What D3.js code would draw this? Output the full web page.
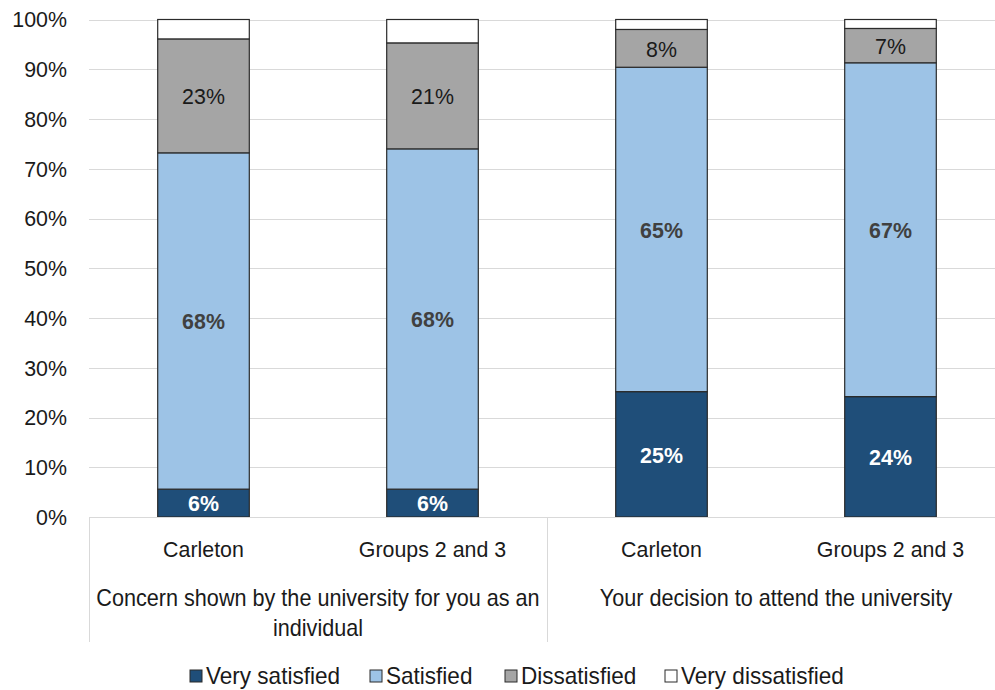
<!DOCTYPE html>
<html>
<head>
<meta charset="utf-8">
<script src="https://cdn.jsdelivr.net/npm/d3@7"></script>
<style>
  body { margin: 0; background: #fff; }
  svg text { font-family: "Liberation Sans Narrow", "Arial Narrow", "Liberation Sans", Arial, sans-serif; }
</style>
</head>
<body>
<div id="chart"></div>
<script>
// data
var questions = ["Concern shown by the university for you as an individual", "Your decision to attend the university"];
var groups = ["Carleton", "Groups 2 and 3"];
var seriesNames = ["Very satisfied", "Satisfied", "Dissatisfied", "Very dissatisfied"];
var verySatisfied = [5.6, 5.6, 25.2, 24.2];
var satisfied = [67.6, 68.4, 65.2, 67.1];
var dissatisfied = [22.9, 21.3, 7.6, 6.9];
var veryDissatisfied = [3.9, 4.7, 2.0, 1.8];
var yTicks = [0, 10, 20, 30, 40, 50, 60, 70, 80, 90, 100];

var colors = ["#1F4E79", "#9DC3E6", "#A5A5A5", "#FFFFFF"];
var labelColors = ["#FFFFFF", "#404040", "#1a1a1a", null];
var labelWeights = ["bold", "bold", "normal", "normal"];

var width = 995, height = 690;
var margin = {top: 19.5, right: -10, bottom: 173, left: 89};
var fontSize = 23;

// move x/y into a transform so the text can be squeezed sideways
function narrow(k) {
  return function(sel) {
    sel.each(function() {
      var t = d3.select(this);
      var tx = +t.attr("x") || 0, ty = +t.attr("y") || 0;
      t.attr("x", null).attr("y", null)
        .attr("transform", "translate(" + tx + "," + ty + ") scale(" + k + ",1)");
    });
  };
}

// build rows: one per bar
var rows = [];
questions.forEach(function(q, qi) {
  groups.forEach(function(g, gi) {
    var i = qi * groups.length + gi;
    rows.push({
      key: i,
      question: q,
      group: g,
      "Very satisfied": verySatisfied[i],
      "Satisfied": satisfied[i],
      "Dissatisfied": dissatisfied[i],
      "Very dissatisfied": veryDissatisfied[i]
    });
  });
});

var stacked = d3.stack().keys(seriesNames)(rows);

var x = d3.scaleBand()
  .domain(rows.map(function(d) { return d.key; }))
  .range([margin.left, width - margin.right])
  .paddingInner(0.6)
  .paddingOuter(0.3);

var y = d3.scaleLinear()
  .domain([0, 100])
  .range([height - margin.bottom, margin.top]);

var svg = d3.select("#chart")
  .append("svg")
  .attr("width", width)
  .attr("height", height);

// gridlines
svg.append("g")
  .selectAll("line")
  .data(yTicks)
  .join("line")
  .attr("x1", margin.left)
  .attr("x2", width - margin.right)
  .attr("y1", function(d) { return Math.round(y(d)) + 0.5; })
  .attr("y2", function(d) { return Math.round(y(d)) + 0.5; })
  .attr("stroke", "#d9d9d9")
  .attr("stroke-width", 1);

// y axis labels
var yAxis = d3.axisLeft(y)
  .tickValues(yTicks)
  .tickFormat(function(d) { return d + "%"; })
  .tickSize(0)
  .tickPadding(22);

svg.append("g")
  .attr("transform", "translate(" + margin.left + ",0)")
  .call(yAxis)
  .call(function(g) { g.select(".domain").remove(); })
  .selectAll("text")
  .attr("font-size", fontSize)
  .attr("fill", "#1a1a1a")
  .call(narrow(0.93));

// bars
var layer = svg.append("g")
  .selectAll("g")
  .data(stacked)
  .join("g")
  .attr("fill", function(d, i) { return colors[i]; });

layer.selectAll("rect")
  .data(function(d) { return d; })
  .join("rect")
  .attr("x", function(d) { return x(d.data.key); })
  .attr("y", function(d) { return y(d[1]); })
  .attr("width", x.bandwidth())
  .attr("height", function(d) { return y(d[0]) - y(d[1]); })
  .attr("stroke", "#2b2b2b")
  .attr("stroke-width", 1.2);

// data labels
stacked.forEach(function(s, si) {
  if (!labelColors[si]) return;
  svg.append("g")
    .selectAll("text")
    .data(s)
    .join("text")
    .attr("x", function(d) { return x(d.data.key) + x.bandwidth() / 2; })
    .attr("y", function(d) { return (y(d[0]) + y(d[1])) / 2; })
    .attr("dy", "0.36em")
    .attr("text-anchor", "middle")
    .attr("font-size", fontSize)
    .attr("font-weight", labelWeights[si])
    .attr("fill", labelColors[si])
    .text(function(d) { return Math.round(d[1] - d[0]) + "%"; })
    .call(narrow(0.93));
});

// x axis line
var y0 = Math.round(y(0)) + 0.5;
svg.append("line")
  .attr("x1", margin.left)
  .attr("x2", width - margin.right)
  .attr("y1", y0)
  .attr("y2", y0)
  .attr("stroke", "#d9d9d9");

// category dividers
var groupSpan = (width - margin.right - margin.left) / questions.length;
svg.append("g")
  .selectAll("line")
  .data(d3.range(questions.length + 1))
  .join("line")
  .attr("x1", function(d) { return Math.round(margin.left + d * groupSpan) + 0.5; })
  .attr("x2", function(d) { return Math.round(margin.left + d * groupSpan) + 0.5; })
  .attr("y1", y0)
  .attr("y2", 642)
  .attr("stroke", "#d9d9d9");

// group labels
svg.append("g")
  .selectAll("text")
  .data(rows)
  .join("text")
  .attr("x", function(d) { return x(d.key) + x.bandwidth() / 2; })
  .attr("y", 557)
  .attr("text-anchor", "middle")
  .attr("font-size", fontSize)
  .attr("fill", "#1a1a1a")
  .text(function(d) { return d.group; })
  .call(narrow(0.93));

// question labels (wrapped like the original)
var qLines = [["Concern shown by the university for you as an", "individual"], ["Your decision to attend the university"]];
svg.append("g")
  .selectAll("text")
  .data(questions)
  .join("text")
  .attr("x", function(d, i) { return margin.left + (i + 0.5) * groupSpan; })
  .attr("y", 606)
  .attr("text-anchor", "middle")
  .attr("font-size", fontSize)
  .attr("fill", "#1a1a1a")
  .each(function(d, i) {
    var t = d3.select(this);
    qLines[i].forEach(function(line, li) {
      t.append("tspan")
        .attr("x", 0)
        .attr("dy", li === 0 ? 0 : 30)
        .text(line);
    });
  })
  .call(narrow(0.94));

// legend
var legendX = [190, 370, 505, 665];
var legend = svg.append("g")
  .selectAll("g")
  .data(seriesNames)
  .join("g")
  .attr("transform", function(d, i) { return "translate(" + legendX[i] + ",676)"; });

legend.append("rect")
  .attr("x", 0)
  .attr("y", -6)
  .attr("width", 12)
  .attr("height", 12)
  .attr("fill", function(d, i) { return colors[i]; })
  .attr("stroke", "#2b2b2b")
  .attr("stroke-width", 1);

legend.append("text")
  .attr("x", 16)
  .attr("dy", "0.36em")
  .attr("font-size", fontSize)
  .attr("fill", "#1a1a1a")
  .text(function(d) { return d; })
  .call(narrow(0.98));
</script>
</body>
</html>
